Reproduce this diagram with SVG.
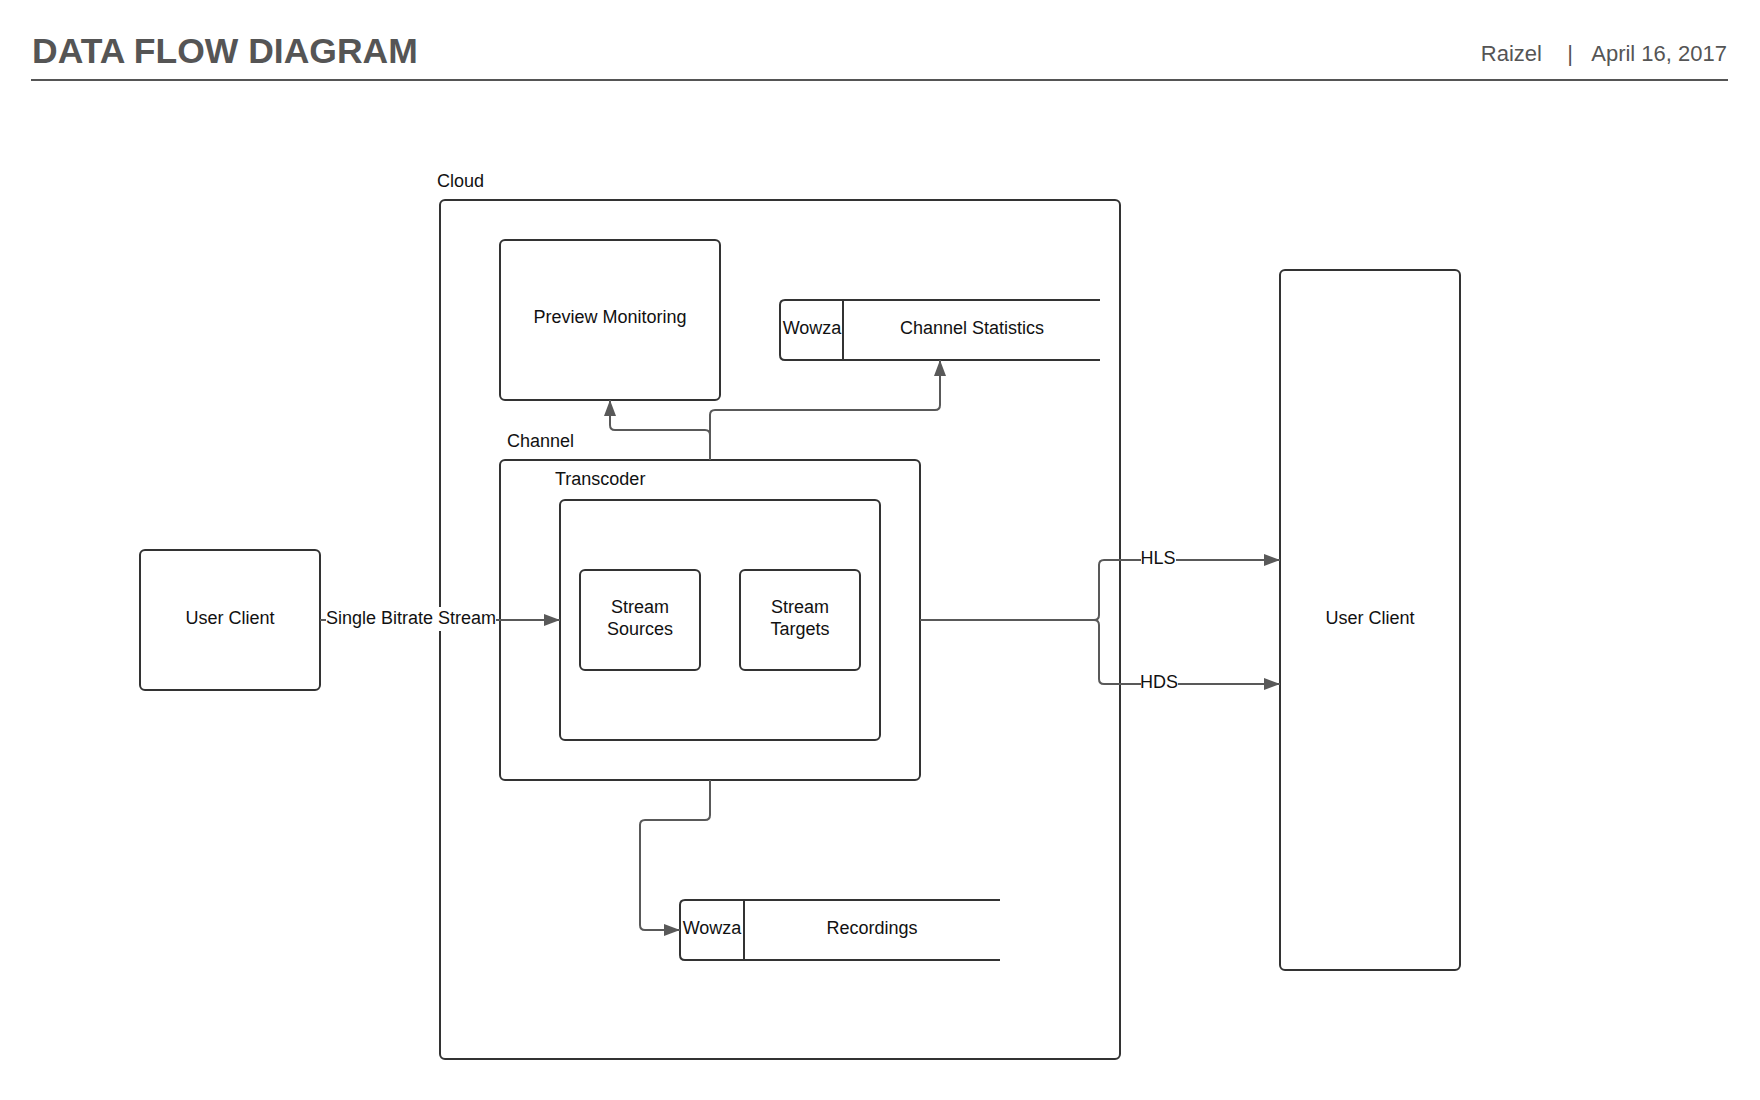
<svg xmlns="http://www.w3.org/2000/svg" width="1760" height="1100" viewBox="0 0 1760 1100">
<defs>
<style>
.node{fill:#fff;stroke:#333;stroke-width:2}
.line{fill:none;stroke:#333;stroke-width:2}
.conn{fill:none;stroke:#595959;stroke-width:2}
.t{font-family:"Liberation Sans",Arial,sans-serif;font-size:18px;fill:#111}
.c{text-anchor:middle}
.hdr{font-family:"Liberation Sans",Arial,sans-serif;fill:#555}
.lblbg{fill:#fff}
</style>
<marker id="arr" viewBox="0 0 16 12" refX="16" refY="6" markerWidth="16" markerHeight="12" markerUnits="userSpaceOnUse" orient="auto">
<path d="M0,0 L16,6 L0,12 z" fill="#595959"/>
</marker>
</defs>
<rect width="1760" height="1100" fill="#fff"/>

<g id="header">
<text class="hdr" x="32" y="63" font-size="35.5" font-weight="bold">DATA FLOW DIAGRAM</text>
<text class="hdr" x="1542" y="61" font-size="22" text-anchor="end">Raizel</text>
<text class="hdr" x="1570" y="61" font-size="22" text-anchor="middle">|</text>
<text class="hdr" x="1727" y="61" font-size="22" text-anchor="end">April 16, 2017</text>
<line x1="31" y1="80" x2="1728" y2="80" stroke="#555" stroke-width="2"/>
</g>

<g id="cloud">
<rect class="node" x="440" y="200" width="680" height="859" rx="5"/>
<text class="t" x="437" y="187">Cloud</text>
</g>

<g id="preview-monitoring">
<rect class="node" x="500" y="240" width="220" height="160" rx="5"/>
<text class="t c" x="610" y="323">Preview Monitoring</text>
</g>

<g id="channel-statistics">
<path class="line" d="M1100,300 H785 q-5,0 -5,5 V355 q0,5 5,5 H1100" fill="#fff"/>
<line class="line" x1="843" y1="300" x2="843" y2="360"/>
<text class="t c" x="812" y="334">Wowza</text>
<text class="t c" x="972" y="334">Channel Statistics</text>
</g>

<g id="channel">
<rect class="node" x="500" y="460" width="420" height="320" rx="5"/>
<text class="t" x="507" y="447">Channel</text>
</g>

<g id="transcoder">
<rect class="node" x="560" y="500" width="320" height="240" rx="5"/>
<text class="t" x="555" y="485">Transcoder</text>
</g>

<g id="stream-sources">
<rect class="node" x="580" y="570" width="120" height="100" rx="5"/>
<text class="t c" x="640" y="613">Stream</text>
<text class="t c" x="640" y="635">Sources</text>
</g>

<g id="stream-targets">
<rect class="node" x="740" y="570" width="120" height="100" rx="5"/>
<text class="t c" x="800" y="613">Stream</text>
<text class="t c" x="800" y="635">Targets</text>
</g>

<g id="recordings">
<path class="line" d="M1000,900 H685 q-5,0 -5,5 V955 q0,5 5,5 H1000" fill="#fff"/>
<line class="line" x1="744" y1="900" x2="744" y2="960"/>
<text class="t c" x="712" y="934">Wowza</text>
<text class="t c" x="872" y="934">Recordings</text>
</g>

<g id="user-client-left">
<rect class="node" x="140" y="550" width="180" height="140" rx="5"/>
<text class="t c" x="230" y="624">User Client</text>
</g>

<g id="user-client-right">
<rect class="node" x="1280" y="270" width="180" height="700" rx="5"/>
<text class="t c" x="1370" y="624">User Client</text>
</g>

<g id="connectors">
<path class="conn" d="M710,460 V435 q0,-5 -5,-5 H615 q-5,0 -5,-5 V400" marker-end="url(#arr)"/>
<path class="conn" d="M710,460 V415 q0,-5 5,-5 H935 q5,0 5,-5 V360" marker-end="url(#arr)"/>
<path class="conn" d="M710,780 V815 q0,5 -5,5 H645 q-5,0 -5,5 V925 q0,5 5,5 H680" marker-end="url(#arr)"/>
<path class="conn" d="M320,620 H560" marker-end="url(#arr)"/>
<rect class="lblbg" x="326" y="607" width="170" height="24"/>
<text class="t c" x="411" y="624">Single Bitrate Stream</text>
<path class="conn" d="M920,620 H1094 q5,0 5,-5 V565 q0,-5 5,-5 H1280" marker-end="url(#arr)"/>
<path class="conn" d="M920,620 H1094 q5,0 5,5 V679 q0,5 5,5 H1280" marker-end="url(#arr)"/>
<rect class="lblbg" x="1141" y="548" width="35" height="22"/>
<text class="t c" x="1158" y="564">HLS</text>
<rect class="lblbg" x="1141" y="672" width="37" height="22"/>
<text class="t c" x="1159" y="688">HDS</text>
</g>
</svg>
